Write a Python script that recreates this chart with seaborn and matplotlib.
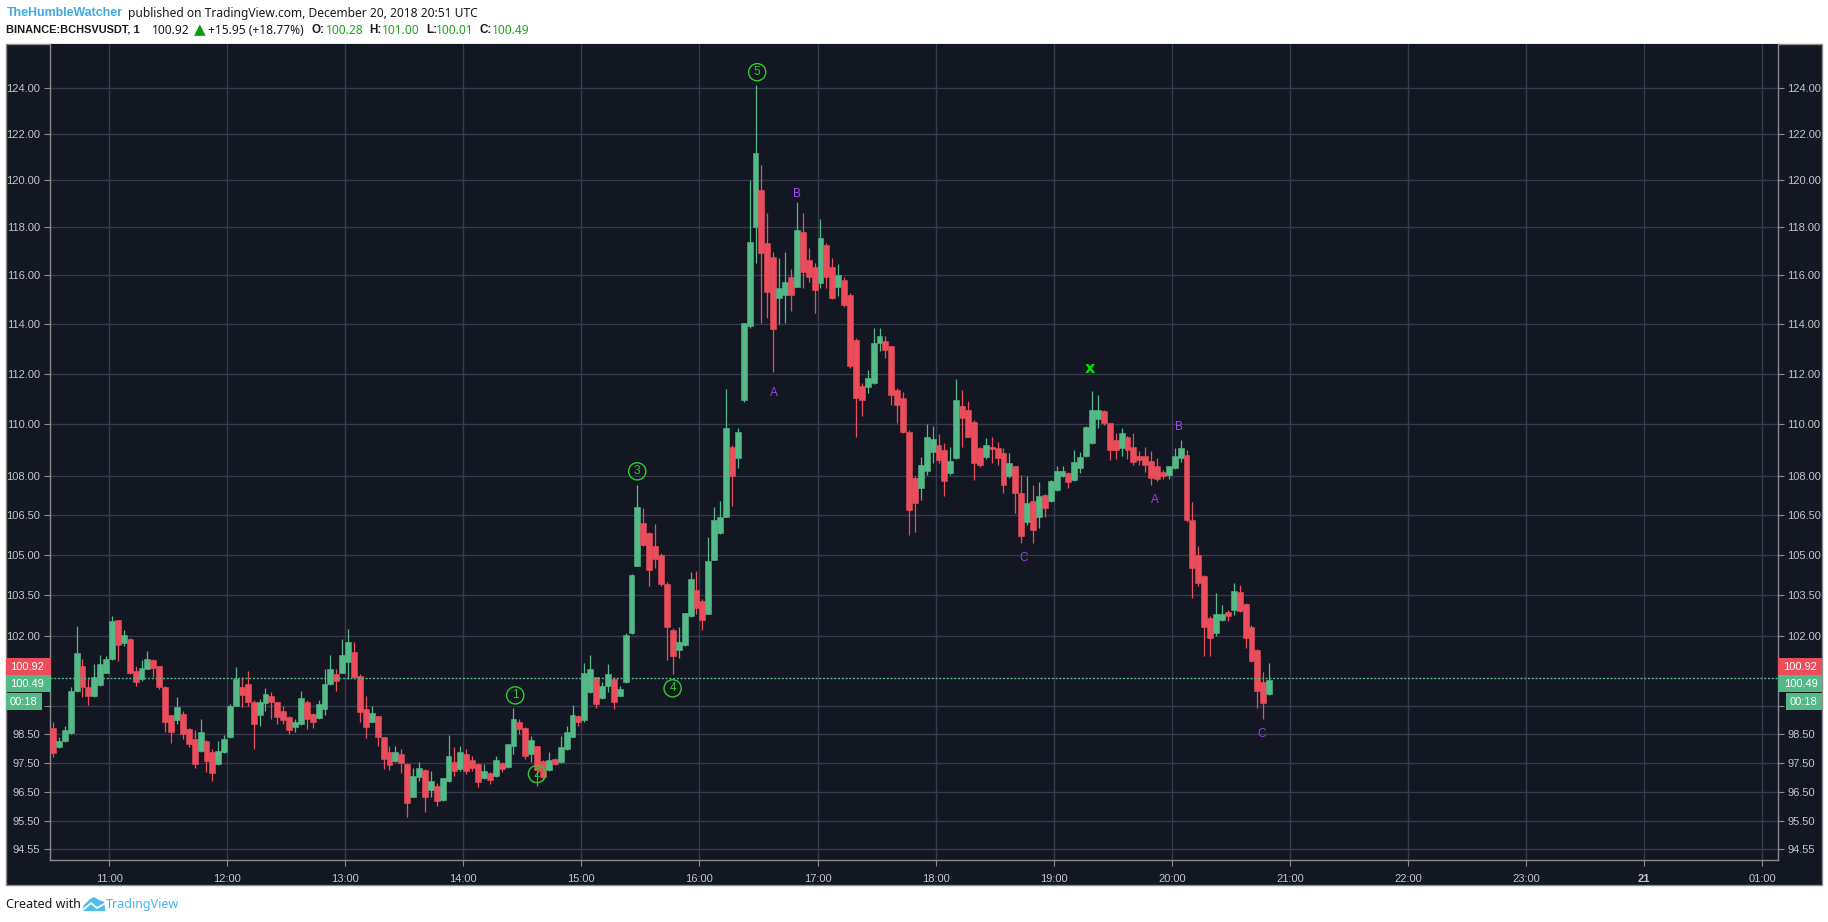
import matplotlib
matplotlib.use("Agg")
import matplotlib.pyplot as plt
from matplotlib.patches import Rectangle, Polygon
from matplotlib.lines import Line2D
import numpy as np
import pandas as pd
import seaborn as sns

# ---------- data: 3-minute candles, starting 10:30 ----------
opens = [98.73,98.05,98.28,98.55,100.05,100.93,100.17,99.85,100.25,100.69,
 101.17,102.60,101.75,101.90,100.75,100.46,100.84,101.14,100.93,100.17,
 99.17,98.99,99.22,98.69,98.34,97.93,98.28,97.87,97.46,97.87,
 98.40,99.52,100.17,100.28,99.64,99.17,99.61,99.85,99.64,99.31,
 99.11,98.75,98.87,99.66,99.22,99.07,99.40,100.28,100.64,100.69,
 101.07,101.42,100.58,99.38,98.95,99.14,98.40,97.87,97.58,97.81,
 97.46,96.34,97.02,97.26,96.58,96.69,96.22,96.87,97.54,97.28,
 97.81,97.61,97.46,96.99,97.16,97.05,97.49,97.38,98.10,98.95,
 98.72,97.81,98.08,97.58,97.26,97.63,97.52,97.99,98.40,99.14,
 98.99,99.99,100.52,99.78,100.22,100.48,99.87,100.34,102.11,104.59,
 106.20,105.83,105.33,105.01,103.92,102.24,101.52,101.69,102.74,103.71,
 103.30,102.80,104.83,105.83,106.45,109.14,108.69,110.97,113.91,118.03,
 119.59,117.33,116.75,115.06,115.20,115.95,115.54,117.82,116.64,116.36,
 115.67,117.26,116.36,115.54,115.81,115.20,113.37,111.50,111.47,111.63,
 113.24,113.31,113.11,111.37,111.04,109.71,107.92,107.54,108.18,108.94,
 109.20,109.01,108.11,108.68,110.71,110.57,110.11,109.07,108.75,109.14,
 109.07,108.88,107.99,108.37,107.35,106.26,107.03,106.45,107.28,107.03,
 107.47,107.99,108.12,107.86,108.31,108.76,109.27,110.23,110.53,110.04,
 109.40,109.08,109.53,109.12,108.78,108.78,108.56,108.40,108.14,108.05,
 108.31,108.69,108.82,106.33,105.01,104.21,102.67,102.14,102.61,102.88,
 102.98,103.62,103.20,102.36,101.52,100.37,99.92]
closes = [97.85,98.28,98.64,100.05,101.40,100.17,99.85,100.52,100.99,101.19,
 102.58,101.69,102.05,100.69,100.34,100.87,101.19,100.87,100.17,98.93,
 98.60,99.46,98.52,98.16,97.46,98.58,97.58,97.14,97.93,98.34,
 99.52,100.46,99.89,99.64,98.87,99.64,99.93,99.64,99.11,98.99,
 98.67,98.93,99.78,99.05,98.93,99.58,100.28,100.81,100.40,101.34,
 101.81,100.52,99.28,98.75,99.26,98.40,97.63,97.42,97.87,97.49,
 96.11,97.05,97.34,96.34,96.87,96.20,96.99,97.75,97.22,97.87,
 97.22,97.34,96.83,97.22,96.91,97.61,97.30,98.16,99.05,98.69,
 97.75,98.32,97.26,97.02,97.61,97.46,98.05,98.60,99.19,98.95,
 100.69,100.81,99.58,100.22,100.63,99.63,100.11,102.05,104.24,106.83,
 105.39,104.46,104.85,103.92,102.36,101.28,101.81,102.86,104.11,103.05,
 102.61,104.77,106.32,106.45,109.88,107.99,109.72,114.04,117.40,121.17,
 116.92,115.33,113.80,115.47,115.74,115.20,117.89,116.15,115.95,115.40,
 117.54,115.95,115.06,116.01,114.79,112.30,111.03,110.97,111.83,113.24,
 113.53,112.97,111.17,110.77,109.72,106.71,106.96,108.43,109.52,109.43,
 108.62,107.79,108.56,110.97,110.24,109.52,108.49,108.43,109.20,109.03,
 108.68,107.67,108.50,107.35,105.70,106.96,105.95,107.22,106.77,107.79,
 108.18,108.18,107.76,108.53,108.73,109.91,110.58,110.58,110.04,109.01,
 109.01,109.68,109.01,108.53,108.60,108.44,107.92,107.88,107.99,108.40,
 108.76,109.08,106.33,104.52,103.97,102.36,101.93,102.83,102.83,102.76,
 103.66,102.92,101.93,101.11,100.04,99.61,100.44]
highs = [98.93,98.40,98.81,100.17,102.37,101.19,100.52,101.01,101.31,101.28,
 102.75,102.60,102.25,101.93,100.93,101.14,101.46,101.17,100.93,100.20,
 99.17,99.81,99.34,98.72,98.64,99.05,98.32,97.99,98.28,98.48,
 99.58,100.91,100.52,100.75,99.70,99.75,100.13,99.99,99.66,99.50,
 99.14,99.05,100.05,99.70,99.26,99.73,100.81,101.31,100.84,101.90,
 102.28,101.81,100.63,99.85,99.52,99.16,98.42,98.08,98.08,97.99,
 97.49,97.34,97.52,97.30,97.22,96.81,96.99,98.48,98.05,98.10,
 97.99,97.73,97.49,97.46,97.19,97.73,97.54,98.16,99.42,99.05,
 98.75,98.46,98.10,97.61,97.87,97.69,98.46,98.81,99.54,99.19,
 101.05,101.31,100.55,100.34,100.99,100.52,100.22,102.11,104.30,107.67,
 106.77,105.85,106.16,105.07,103.99,102.30,102.36,102.86,104.36,104.42,
 103.36,105.66,106.80,107.03,111.40,109.21,109.85,114.04,120.01,124.14,
 120.67,118.60,116.99,116.71,116.99,116.26,119.09,118.60,117.13,116.50,
 118.34,117.33,116.71,116.47,115.95,115.26,113.44,111.63,112.16,113.84,
 113.84,113.53,113.13,111.44,111.27,109.77,107.99,108.75,110.00,109.96,
 109.64,109.26,109.11,111.80,111.37,110.91,110.17,109.14,109.46,109.52,
 109.33,109.08,108.88,108.40,108.05,108.01,107.67,107.76,107.32,107.86,
 108.37,108.37,108.14,109.01,108.91,109.94,111.34,111.18,110.56,110.06,
 109.68,109.88,109.55,109.65,108.95,109.14,108.95,108.69,108.24,108.40,
 109.08,109.40,108.99,106.99,105.35,104.27,102.73,103.60,103.13,102.98,
 103.97,103.90,103.23,102.42,101.54,100.70,101.03]
lows = [97.70,98.01,98.25,98.52,100.01,99.81,99.54,99.81,100.22,100.69,
 101.14,101.11,101.66,100.64,100.22,100.40,100.81,100.52,100.11,98.58,
 98.19,98.87,98.34,98.05,97.34,97.87,97.19,96.87,97.42,97.85,
 98.37,99.50,99.48,99.52,97.99,98.81,99.34,99.05,98.87,98.87,
 98.52,98.60,98.84,98.69,98.72,99.05,99.19,100.25,100.05,100.67,
 100.48,100.48,98.95,98.36,98.93,98.10,97.30,97.26,97.54,97.16,
 95.63,96.32,96.87,95.81,96.34,96.01,96.20,96.83,97.05,97.22,
 97.11,97.22,96.67,96.95,96.79,97.02,97.19,97.34,97.81,98.52,
 97.63,97.54,96.72,96.93,97.22,97.42,97.49,97.96,98.40,98.81,
 98.95,99.96,99.42,99.75,99.99,99.38,99.85,100.32,102.08,104.59,
 105.33,103.86,104.52,103.86,101.16,100.64,101.22,101.67,102.71,102.80,
 102.24,102.80,104.80,105.79,106.42,106.86,108.31,110.90,113.84,116.50,
 114.04,114.24,112.09,114.01,114.04,114.52,115.51,115.47,115.74,114.45,
 115.47,115.47,115.02,115.17,114.72,112.23,109.51,110.33,111.23,111.60,
 112.90,112.64,110.77,110.04,109.65,105.76,105.87,107.09,108.05,108.50,
 108.50,107.22,108.05,108.66,109.14,109.52,107.85,108.36,108.65,108.49,
 108.43,107.35,107.92,106.58,105.45,106.14,105.45,106.01,106.43,107.00,
 107.41,107.96,107.54,107.79,108.12,108.73,109.24,109.88,109.97,108.60,
 108.65,108.78,108.65,108.44,108.44,108.14,107.67,107.79,107.88,107.88,
 108.27,108.53,106.26,103.41,103.84,101.29,101.29,102.01,102.55,102.58,
 102.79,102.88,101.58,101.08,99.43,99.03,99.88]

y_ticks = [94.55,95.50,96.50,97.50,98.50,99.50,102.00,103.50,105.00,106.50,
           108.00,110.00,112.00,114.00,116.00,118.00,120.00,122.00,124.00]
x_ticks = [11,12,13,14,15,16,17,18,19,20,21,22,23,24,25]
x_labels = ["11:00","12:00","13:00","14:00","15:00","16:00","17:00","18:00",
            "19:00","20:00","21:00","22:00","23:00","21","01:00"]
last_price = 100.49
wave_labels = ["1","2","3","4","5"]
wave_t = [14.44,14.624,15.473,15.773,16.489]
wave_p = [99.88,97.12,108.18,100.13,124.71]
abc_labels = ["A","B","C","A","B","C"]
abc_t = [16.628,16.823,18.748,19.857,20.06,20.763]
abc_p = [111.25,119.43,104.9,107.08,109.91,98.53]
abc_col = ["#9a3fe0","#a845f5","#9a3fe0","#9a3fe0","#a845f5","#9a3fe0"]

# ---------- style ----------
W, H = 1828, 922
BG = "#131722"; GRID = "#363a4d"; UP = "#53b987"; DOWN = "#eb4d5c"
LABEL = "#c3c5c8"; SPINE = "#8c8c8c"
sns.set_theme(style="dark", rc={"axes.facecolor": BG, "figure.facecolor": "white",
                                "xtick.bottom": True, "ytick.left": True})
plt.rcParams["font.family"] = ["Liberation Sans", "DejaVu Sans"]

def fx(x): return x / W
def fy(y): return 1 - y / H

fig = plt.figure(figsize=(W / 100, H / 100), dpi=100)
fig.add_artist(Rectangle((fx(6), fy(885)), fx(1816), (885 - 44) / H, transform=fig.transFigure,
                         fc=BG, ec=SPINE, lw=1.0, zorder=-1))
ax = fig.add_axes([fx(50), fy(860), fx(1727.5), (860 - 44) / H], zorder=1)
ax.set_yscale("log")
ax.set_xlim(10.5, 25.13)
ax.set_ylim(94.19, 125.97)

# ---------- candles ----------
df = pd.DataFrame({"o": opens, "c": closes, "h": highs, "l": lows})
df["t"] = 10.5 + (df.index + 0.5) * 3 / 60
df["col"] = np.where(df["c"] >= df["o"], UP, DOWN)
ax.vlines(df["t"], df["l"], df["h"], colors=df["col"], lw=0.9, zorder=3)
ax.bar(df["t"], (df["c"] - df["o"]).abs(), bottom=df[["c", "o"]].min(axis=1),
       width=3 / 60, color=df["col"], edgecolor=df["col"], linewidth=0.4, zorder=4)

line_df = pd.DataFrame({"t": [10.5, 25.13], "p": [last_price, last_price]})
sns.lineplot(data=line_df, x="t", y="p", ax=ax, color=UP, lw=1.0, ls=(0, (1.5, 1.2)), zorder=5)

# ---------- axes ----------
ax.set_xlabel(""); ax.set_ylabel("")
ax.set_xticks(x_ticks); ax.set_xticklabels(x_labels)
ax.set_yticks(y_ticks); ax.set_yticklabels([f"{v:.2f}" for v in y_ticks])
ax.minorticks_off()
ax.grid(True, color=GRID, lw=1.0, zorder=1)
ax.set_axisbelow(True)
ax.tick_params(axis="both", colors=SPINE, labelcolor=LABEL, labelsize=8.0, length=4, width=0.8)
ax.tick_params(axis="y", left=True, right=True, labelleft=True, labelright=True, pad=3)
ax.tick_params(axis="x", pad=6)
for lab, name in zip(ax.get_xticklabels(), x_labels):
    if name == "21":
        lab.set_fontweight("bold")
for s in ["left", "bottom", "right"]:
    ax.spines[s].set_color(SPINE); ax.spines[s].set_linewidth(1.0); ax.spines[s].set_visible(True)
ax.spines["top"].set_visible(False)

# ---------- annotations ----------
for s, t, p in zip(wave_labels, wave_t, wave_p):
    ax.text(t, p, s, color="#2ecc2e", fontsize=8.5, ha="center", va="center", zorder=7,
            bbox=dict(boxstyle="circle,pad=0.22", fc="none", ec="#2ecc2e", lw=1.0))
for s, t, p, c in zip(abc_labels, abc_t, abc_p, abc_col):
    ax.text(t, p, s, color=c, fontsize=8.5, ha="center", va="center", zorder=7)
ax.text(19.307, 112.22, "x", color="#00e600", fontsize=11.5, fontweight="bold", family="DejaVu Sans",
        ha="center", va="center", zorder=7)

# ---------- price boxes ----------
def box(x0, x1, y0, y1, col, text, tx):
    fig.add_artist(Rectangle((fx(x0), fy(y1)), fx(x1 - x0), (y1 - y0) / H, transform=fig.transFigure,
                             fc=col, ec="none", zorder=10))
    fig.text(fx(tx), fy((y0 + y1) / 2), text, color="white", fontsize=8.0, ha="center", va="center", zorder=11)

box(6, 50.5, 658, 675, DOWN, "100.92", 27)
box(6, 50.5, 675, 692, UP, "100.49", 27)
box(6, 41.5, 693, 710, UP, "00:18", 24)
box(1777.5, 1822, 658, 675, DOWN, "100.92", 1800.5)
box(1777.5, 1822, 675, 692, UP, "100.49", 1800.5)
box(1786, 1822, 693, 710, UP, "00:18", 1803)

# ---------- header and footer ----------
HF = "Noto Sans"
BF = "Liberation Sans"
def run(x, y, s, col="#1a1a1a", bold=False, size=8.65, fam=None):
    fig.text(fx(x), fy(y), s, color=col, fontsize=size, family=fam or (BF if bold else HF),
             va="center", ha="left", fontweight="bold" if bold else "normal")

run(6.5, 13, "TheHumbleWatcher", "#3fa9e0", bold=True, size=8.9)
run(128.5, 13, "published on TradingView.com, December 20, 2018 20:51 UTC")
GREEN = "#1fa51f"
run(6.5, 30, "BINANCE:BCHSVUSDT, 1", bold=True, size=7.9)
run(152, 30, "100.92")
run(193.5, 30, "\u25b2", "#0a9f0a", size=11, fam="DejaVu Sans")
run(208, 30, "+15.95 (+18.77%)")
run(311, 30, "O:", bold=True, size=8.4); run(326, 30, "100.28", GREEN)
run(369, 30, "H:", bold=True, size=8.4); run(382, 30, "101.00", GREEN)
run(426, 30, "L:", bold=True, size=8.4); run(436, 30, "100.01", GREEN)
run(479, 30, "C:", bold=True, size=8.4); run(492, 30, "100.49", GREEN)

run(6, 904, "Created with", size=9.0)
run(106, 904, "TradingView", "#45b5e8", size=9.0)
fig.add_artist(Polygon([(fx(82), fy(911)), (fx(84), fy(905)), (fx(90), fy(899)), (fx(94), fy(897)),
                        (fx(99), fy(900)), (fx(104), fy(902)), (fx(105.5), fy(911))],
                       closed=True, transform=fig.transFigure, fc="#4fbce8", ec="none", zorder=5))
fig.add_artist(Line2D([fx(83), fx(91), fx(97), fx(104)], [fy(910), fy(903), fy(908), fy(904)],
                      transform=fig.transFigure, color="white", lw=1.2, zorder=6))

fig.savefig("out.png", dpi=100, facecolor="white")
